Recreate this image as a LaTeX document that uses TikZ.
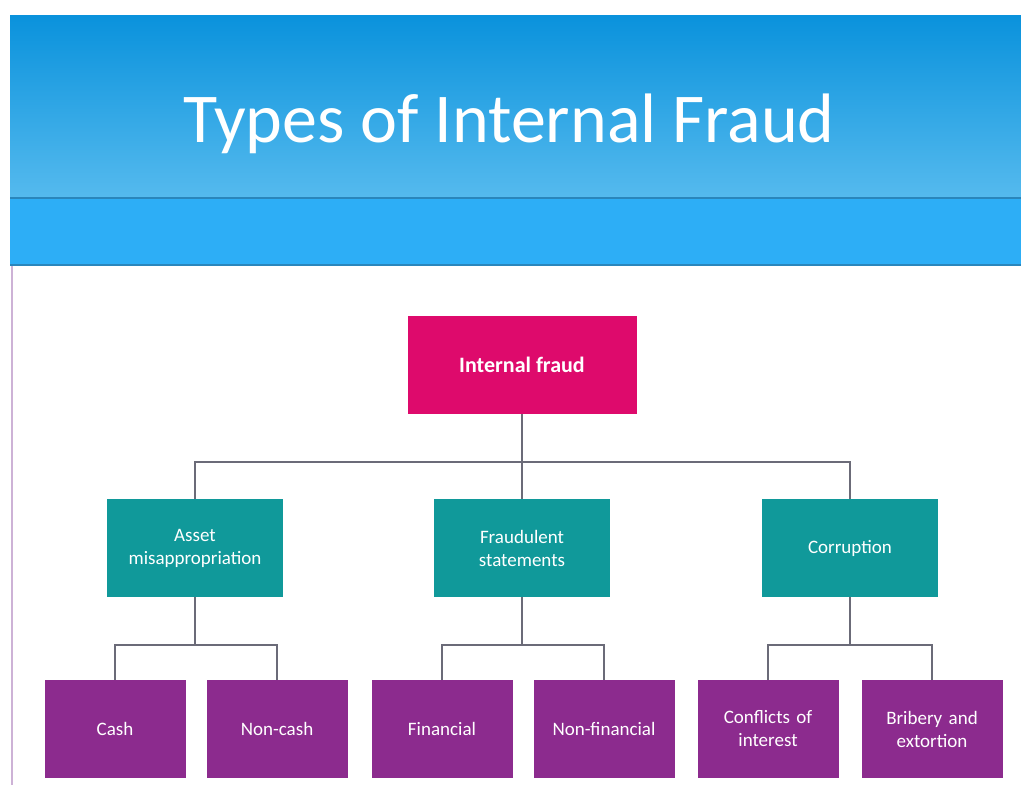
\documentclass[tikz,border=0pt]{standalone}
\usepackage{fontspec}
\setmainfont{Carlito}
\usetikzlibrary{positioning}
\definecolor{HeadTop}{HTML}{0A92DC}
\definecolor{HeadBot}{HTML}{55BAEE}
\definecolor{Band}{HTML}{2DAEF6}
\definecolor{BandLine}{HTML}{2A86BC}
\definecolor{RootPink}{HTML}{DE0A6C}
\definecolor{GroupTeal}{HTML}{10999A}
\definecolor{LeafPurple}{HTML}{8C2B8E}
\definecolor{LinkGrey}{HTML}{6B6B78}
\definecolor{SideLine}{HTML}{CDB2D6}

\begin{document}
\begin{tikzpicture}[x=1pt,y=-1pt,
    box/.style={inner sep=0,outer sep=0,text=white,align=center,font=\fontsize{19}{23}\selectfont},
    rootbox/.style={box,fill=RootPink,minimum width=229,minimum height=98,font=\bfseries\fontsize{22}{26}\selectfont},
    groupbox/.style={box,fill=GroupTeal,minimum width=176,minimum height=98},
    leafbox/.style={box,fill=LeafPurple,minimum width=141,minimum height=98,text width=137},
    link/.style={draw=LinkGrey,line width=1.6}]
    \useasboundingbox[fill=white] (0,0) rectangle (1021,785);
    % Header
    \shade[top color=HeadTop,bottom color=HeadBot] (10,15) rectangle (1021,198);
    \fill[Band] (10,198) rectangle (1021,265);
    \draw[BandLine,line width=2] (10,198) -- (1021,198);
    \draw[BandLine,line width=2] (10,265) -- (1021,265);
    \draw[SideLine,line width=1.5] (12,266) -- (12,785);
    \node[text=white,font=\fontsize{70}{80}\selectfont] (Title) at (509,124) {Types of Internal Fraud};
    % Boxes
    \node[rootbox] (Root) at (522,365) {Internal fraud};
    %
    \node[groupbox] (Asset)      at (195,548) {Asset\\misappropriation};
    \node[groupbox] (Statements) at (522,548) {Fraudulent\\statements};
    \node[groupbox] (Corruption) at (850,548) {Corruption};
    %
    \node[leafbox] (Cash)         at (115,729) {Cash};
    \node[leafbox] (NonCash)      at (277,729) {Non-cash};
    \node[leafbox] (Financial)    at (442,729) {Financial};
    \node[leafbox] (NonFinancial) at (604,729) {Non-financial};
    \node[leafbox] (Conflicts)    at (768,729) {Conflicts of\\interest};
    \node[leafbox] (Bribery)      at (932,729) {Bribery and\\extortion};
    % Links
    \draw[link] (Root.south) -- ++(0,48) -| (Asset.north);
    \draw[link] (Root.south) -- ++(0,48) -| (Corruption.north);
    \draw[link] (Root.south) -- (Statements.north);
    \draw[link] (Asset.south) -- ++(0,48) -| (Cash.north);
    \draw[link] (Asset.south) -- ++(0,48) -| (NonCash.north);
    \draw[link] (Statements.south) -- ++(0,48) -| (Financial.north);
    \draw[link] (Statements.south) -- ++(0,48) -| (NonFinancial.north);
    \draw[link] (Corruption.south) -- ++(0,48) -| (Conflicts.north);
    \draw[link] (Corruption.south) -- ++(0,48) -| (Bribery.north);
\end{tikzpicture}
\end{document}
